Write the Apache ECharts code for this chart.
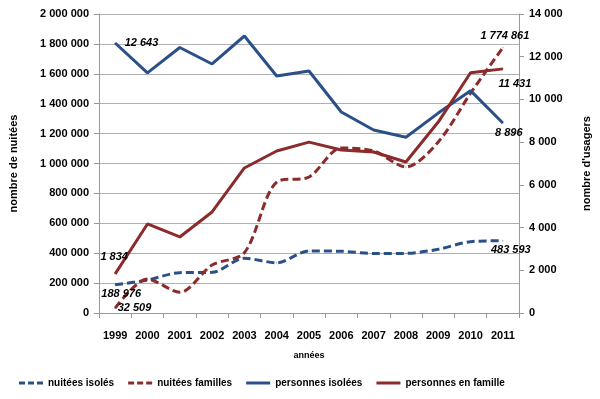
<!DOCTYPE html>
<html>
<head>
<meta charset="utf-8">
<script src="https://cdn.jsdelivr.net/npm/echarts@6/dist/echarts.min.js"></script>
<style>
  html, body { margin: 0; padding: 0; background: #fff; }
  #chart { width: 600px; height: 399px; }
</style>
</head>
<body>
<div id="chart"></div>
<script>
// données
var annees = ['1999', '2000', '2001', '2002', '2003', '2004', '2005', '2006', '2007', '2008', '2009', '2010', '2011'];
var nuiteesIsoles = [188976, 220000, 270000, 272000, 366000, 336000, 415000, 413000, 398000, 399000, 426000, 477000, 483593];
var nuiteesFamilles = [32509, 227000, 138000, 321000, 403000, 876000, 910000, 1104000, 1084000, 977000, 1144000, 1470000, 1774861];
var personnesIsolees = [12643, 11240, 12430, 11660, 12970, 11100, 11330, 9410, 8570, 8230, 9360, 10410, 8896];
var personnesFamille = [1834, 4170, 3560, 4730, 6790, 7585, 8000, 7630, 7540, 7070, 8940, 11250, 11431];

var BLUE = '#2B5088';
var RED = '#8B2B2B';
var FONT = '"Liberation Sans", Arial, sans-serif';
var DASH_ICON = 'path://M0,0h6v3h-6z M9,0h6v3h-6z M18,0h6v3h-6z';
var LINE_ICON = 'path://M0,0h24v3h-24z';

function fmt(v) {
    return String(v).replace(/\B(?=(\d{3})+(?!\d))/g, ' ');
}

// étiquettes sur le premier et le dernier point seulement
function withLabels(values, first, last) {
    return values.map(function (v, i) {
        var item = { value: v };
        if (i === 0 && first) item.label = Object.assign({ show: true }, first);
        if (i === values.length - 1 && last) item.label = Object.assign({ show: true }, last);
        return item;
    });
}

var labelStyle = {
    show: false,
    formatter: function (p) { return fmt(p.value); },
    fontStyle: 'italic',
    fontWeight: 'bold',
    fontSize: 11,
    color: '#000',
    fontFamily: FONT
};

function lineSeries(name, axis, color, dashed, data) {
    return {
        name: name,
        type: 'line',
        yAxisIndex: axis,
        smooth: dashed ? 0.3 : false,
        symbol: 'circle',
        symbolSize: 1,
        showSymbol: true,
        itemStyle: { color: color },
        lineStyle: { color: color, width: 3, type: dashed ? [8, 4] : 'solid' },
        label: labelStyle,
        emphasis: { disabled: true },
        data: data
    };
}

var chart = echarts.init(document.getElementById('chart'));
chart.setOption({
    animation: false,
    textStyle: { fontFamily: FONT },
    grid: { left: 98, right: 80, top: 14, bottom: 86 },
    legend: {
        bottom: 6,
        left: 14,
        itemWidth: 24,
        itemHeight: 3,
        itemGap: 14,
        textStyle: { fontSize: 10, fontWeight: 'bold', color: '#000', fontFamily: FONT },
        data: [
            { name: 'nuitées isolés', icon: DASH_ICON },
            { name: 'nuitées familles', icon: DASH_ICON },
            { name: 'personnes isolées', icon: LINE_ICON },
            { name: 'personnes en famille', icon: LINE_ICON }
        ]
    },
    xAxis: {
        type: 'category',
        data: annees,
        boundaryGap: true,
        name: 'années',
        nameLocation: 'middle',
        nameGap: 38,
        nameTextStyle: { fontSize: 9, fontWeight: 'bold', color: '#000' },
        axisLine: { lineStyle: { color: '#999' } },
        axisTick: { show: true, length: 5, lineStyle: { color: '#999' } },
        axisLabel: { fontSize: 11, fontWeight: 'bold', color: '#000', margin: 17 }
    },
    yAxis: [{
        type: 'value',
        min: 0,
        max: 2000000,
        interval: 200000,
        name: 'nombre de nuitées',
        nameLocation: 'middle',
        nameGap: 80,
        nameRotate: 90,
        nameTextStyle: { fontSize: 11, fontWeight: 'bold', color: '#000' },
        axisLine: { show: true, lineStyle: { color: '#999' } },
        axisTick: { show: true, length: 5, lineStyle: { color: '#999' } },
        axisLabel: { fontSize: 11, fontWeight: 'bold', color: '#000', margin: 10, formatter: fmt },
        splitLine: { lineStyle: { color: '#b0b0b0', width: 1 } }
    }, {
        type: 'value',
        min: 0,
        max: 14000,
        interval: 2000,
        name: "nombre d'usagers",
        nameLocation: 'middle',
        nameGap: 62,
        nameRotate: 90,
        nameTextStyle: { fontSize: 11, fontWeight: 'bold', color: '#000' },
        axisLine: { show: true, lineStyle: { color: '#999' } },
        axisTick: { show: true, length: 5, lineStyle: { color: '#999' } },
        axisLabel: { fontSize: 11, fontWeight: 'bold', color: '#000', margin: 10, formatter: fmt },
        splitLine: { show: false }
    }],
    series: [
        lineSeries('nuitées isolés', 0, BLUE, true, withLabels(nuiteesIsoles,
            { position: 'bottom', offset: [6, -2] },
            { position: 'bottom', offset: [8, -2] })),
        lineSeries('nuitées familles', 0, RED, true, withLabels(nuiteesFamilles,
            { position: 'right', offset: [-3, 0] },
            { position: 'top', offset: [2, -1] })),
        lineSeries('personnes isolées', 1, BLUE, false, withLabels(personnesIsolees,
            { position: 'right', offset: [4, 0] },
            { position: 'bottom', offset: [6, -1] })),
        lineSeries('personnes en famille', 1, RED, false, withLabels(personnesFamille,
            { position: 'top', offset: [-1, -6] },
            { position: 'bottom', offset: [12, 4] }))
    ]
});
</script>
</body>
</html>
